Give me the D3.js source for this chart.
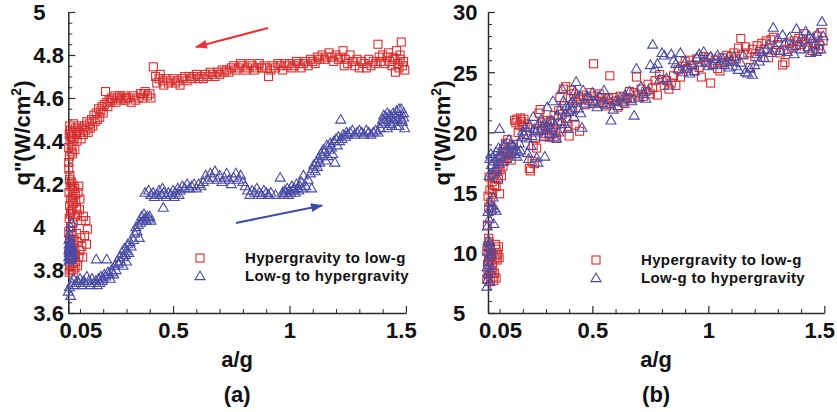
<!DOCTYPE html>
<html>
<head>
<meta charset="utf-8">
<script src="https://cdn.jsdelivr.net/npm/d3@7"></script>
<style>
  body { margin: 0; background: #fff; }
  svg { display: block; }
  text { font-family: 'Liberation Sans', Arial, Helvetica, sans-serif; font-weight: bold; fill: #111; }
</style>
</head>
<body>
<svg id="chart" width="837" height="412"></svg>
<script>
// ---- axis ticks and labels ----
const xTicks = [0.05, 0.5, 1, 1.5];
const xMinorTicks = [0.1, 0.2, 0.3, 0.4, 0.6, 0.7, 0.8, 0.9, 1.1, 1.2, 1.3, 1.4];
const yTicksA = [3.6, 3.8, 4, 4.2, 4.4, 4.6, 4.8, 5];
const yTicksB = [5, 10, 15, 20, 25, 30];
const legendLabels = ["Hypergravity to low-g", "Low-g to hypergravity"];
const panelLabels = ["(a)", "(b)"];

// ---- (a) heat flux, hypergravity to low-g: [a/g, q''] ----
const hyperToLowA = [
  [0.052,4.30],[0.055,4.33],[0.052,4.37],[0.058,4.40],[0.054,4.43],[0.060,4.45],[0.056,4.47],[0.064,4.42],[0.070,4.44],[0.066,4.38],
  [0.062,4.35],[0.075,4.41],[0.080,4.46],[0.072,4.48],[0.085,4.43],[0.068,4.34],[0.078,4.36],[0.090,4.45],[0.095,4.47],[0.088,4.40],
  [0.052,4.27],[0.055,4.22],[0.058,4.19],[0.053,4.16],[0.060,4.13],[0.056,4.10],[0.062,4.07],[0.054,4.04],[0.065,4.20],[0.068,4.17],
  [0.070,4.14],[0.072,4.11],[0.066,4.08],[0.075,4.05],[0.078,4.18],[0.080,4.15],[0.082,4.12],[0.085,4.09],[0.070,4.02],[0.088,4.06],
  [0.092,4.16],[0.095,4.19],[0.100,4.13],[0.098,4.08],[0.105,4.03],[0.115,4.05],[0.125,4.03],[0.132,3.99],[0.120,3.96],[0.128,3.92],
  [0.060,4.00],[0.052,3.98],[0.055,3.94],[0.058,3.91],[0.053,3.88],[0.060,3.85],[0.056,3.82],[0.054,3.79],[0.062,3.96],[0.065,3.92],
  [0.068,3.89],[0.064,3.86],[0.070,3.83],[0.072,3.80],[0.075,3.94],[0.078,3.90],[0.080,3.87],[0.082,3.84],[0.085,3.97],[0.088,3.93],
  [0.090,3.82],[0.095,3.86],[0.100,3.89],[0.108,3.91],[0.112,3.86],[0.104,3.95],
  [0.057,4.24],[0.063,4.21],[0.059,4.06],[0.067,4.12],[0.074,4.19],[0.061,3.80],[0.066,3.98],[0.073,3.87],[0.079,3.81],[0.058,4.43],
  [0.100,4.44],[0.105,4.41],[0.110,4.46],[0.115,4.43],[0.120,4.47],[0.125,4.45],[0.130,4.49],[0.135,4.44],[0.140,4.48],[0.145,4.46],
  [0.150,4.50],[0.155,4.47],[0.160,4.52],[0.165,4.49],[0.170,4.53],[0.175,4.50],[0.180,4.55],[0.185,4.51],[0.190,4.54],[0.195,4.56],
  [0.200,4.53],[0.205,4.57],[0.210,4.63],[0.215,4.58],[0.220,4.56],[0.225,4.59],[0.230,4.58],[0.235,4.60],[0.240,4.59],[0.250,4.61],
  [0.255,4.58],[0.260,4.60],[0.270,4.61],[0.275,4.59],[0.280,4.60],[0.290,4.61],[0.295,4.59],[0.300,4.60],[0.310,4.60],[0.320,4.58],
  [0.330,4.61],[0.340,4.59],[0.350,4.60],[0.360,4.62],[0.370,4.60],[0.375,4.62],[0.380,4.63],[0.390,4.61],[0.400,4.62],[0.405,4.60],
  [0.415,4.745],[0.425,4.70],[0.430,4.67],[0.440,4.69],[0.445,4.71],[0.455,4.68],[0.460,4.66],[0.470,4.69],[0.480,4.67],[0.490,4.68],
  [0.500,4.69],[0.510,4.67],[0.520,4.68],[0.530,4.66],[0.540,4.69],[0.550,4.70],[0.560,4.68],[0.570,4.70],[0.580,4.69],[0.590,4.70],
  [0.600,4.71],[0.610,4.69],[0.620,4.70],[0.630,4.69],[0.640,4.71],[0.650,4.70],[0.660,4.72],[0.670,4.71],[0.680,4.70],[0.690,4.72],
  [0.700,4.71],[0.710,4.73],[0.720,4.72],[0.730,4.73],[0.740,4.72],[0.750,4.74],[0.760,4.75],[0.770,4.73],[0.780,4.74],[0.790,4.76],
  [0.800,4.75],[0.810,4.73],[0.820,4.74],[0.830,4.76],[0.840,4.75],[0.850,4.73],[0.860,4.74],[0.870,4.76],[0.880,4.74],[0.890,4.75],
  [0.900,4.74],[0.910,4.70],[0.920,4.73],[0.930,4.75],[0.940,4.74],[0.950,4.76],[0.960,4.75],[0.970,4.73],[0.980,4.76],[0.990,4.75],
  [1.000,4.76],[1.010,4.74],[1.020,4.75],[1.030,4.77],[1.040,4.76],[1.050,4.74],[1.060,4.76],[1.070,4.77],[1.080,4.75],[1.090,4.78],
  [1.100,4.77],[1.110,4.76],[1.120,4.79],[1.130,4.78],[1.140,4.80],[1.150,4.78],[1.160,4.79],[1.170,4.81],[1.180,4.79],[1.190,4.77],
  [1.200,4.80],[1.210,4.78],[1.220,4.79],[1.230,4.82],[1.235,4.75],[1.240,4.78],[1.250,4.76],[1.260,4.80],[1.270,4.77],[1.280,4.75],
  [1.290,4.78],[1.300,4.74],[1.310,4.77],[1.320,4.76],[1.330,4.74],[1.340,4.78],[1.350,4.75],[1.360,4.77],[1.370,4.76],[1.380,4.85],
  [1.385,4.79],[1.390,4.77],[1.400,4.80],[1.410,4.76],[1.420,4.79],[1.430,4.77],[1.440,4.75],[1.450,4.78],[1.455,4.72],[1.460,4.82],
  [1.465,4.76],[1.470,4.74],[1.475,4.78],[1.480,4.86],[1.485,4.75],[1.490,4.77],[1.495,4.73],[1.475,4.80],[1.445,4.79],[1.425,4.81]
];

// ---- (a) heat flux, low-g to hypergravity ----
const lowToHyperA = [
  [0.052,3.86],[0.055,3.88],[0.058,3.90],[0.054,3.92],[0.060,3.87],[0.062,3.89],[0.056,3.91],[0.064,3.86],[0.053,3.94],[0.058,3.85],
  [0.066,3.88],[0.068,3.90],[0.060,3.93],[0.057,3.95],[0.063,3.92],[0.070,3.87],[0.055,3.97],[0.060,4.00],[0.065,4.02],[0.052,3.84],
  [0.053,3.89],[0.056,3.86],[0.059,3.88],[0.061,3.91],[0.054,3.90],[0.057,3.87],[0.062,3.85],[0.065,3.90],[0.067,3.86],[0.059,3.93],
  [0.050,3.70],[0.055,3.72],[0.060,3.68],[0.065,3.74],[0.072,3.76],[0.080,3.73],[0.088,3.75],[0.095,3.74],[0.100,3.76],[0.108,3.73],
  [0.115,3.75],[0.122,3.74],[0.130,3.77],[0.138,3.75],[0.145,3.73],[0.152,3.76],[0.160,3.74],[0.168,3.75],[0.175,3.73],[0.180,3.76],
  [0.185,3.74],[0.190,3.77],[0.170,3.85],[0.215,3.85],[0.195,3.75],[0.200,3.76],[0.205,3.78],[0.210,3.77],[0.220,3.79],[0.225,3.78],
  [0.230,3.76],[0.235,3.80],[0.240,3.79],[0.245,3.78],
  [0.250,3.82],[0.255,3.80],[0.260,3.84],[0.265,3.83],[0.270,3.86],[0.275,3.84],[0.280,3.88],[0.285,3.86],[0.290,3.90],[0.295,3.87],
  [0.300,3.89],[0.305,3.92],[0.310,3.88],[0.315,3.93],[0.300,3.84],[0.285,3.82],[0.320,3.91],[0.330,3.94],[0.335,3.97],[0.340,4.00],
  [0.345,3.98],[0.350,4.01],[0.355,3.95],[0.360,4.02],[0.365,4.05],[0.370,4.03],[0.375,4.06],[0.380,4.04],[0.385,4.03],[0.390,4.05],
  [0.395,4.04],[0.400,4.05],[0.405,4.03],[0.380,4.16],[0.395,4.17],[0.405,4.15],[0.415,4.16],[0.420,4.14],[0.430,4.15],[0.458,4.09],
  [0.440,4.17],[0.450,4.15],[0.455,4.18],[0.460,4.16],[0.470,4.14],[0.480,4.16],[0.490,4.15],[0.500,4.17],[0.505,4.14],[0.510,4.16],
  [0.520,4.18],[0.525,4.15],[0.530,4.17],[0.540,4.19],[0.550,4.18],[0.560,4.20],[0.570,4.18],[0.580,4.19],[0.590,4.20],[0.600,4.18],
  [0.610,4.20],[0.620,4.19],[0.630,4.21],[0.640,4.24],[0.650,4.22],[0.660,4.25],[0.670,4.23],[0.680,4.26],[0.690,4.22],[0.700,4.24],
  [0.710,4.21],[0.720,4.23],[0.730,4.25],[0.740,4.22],[0.750,4.20],[0.760,4.23],[0.770,4.25],[0.780,4.22],[0.790,4.24],[0.800,4.21],
  [0.810,4.19],[0.820,4.17],[0.830,4.15],[0.840,4.17],[0.850,4.16],[0.860,4.18],[0.870,4.16],[0.880,4.15],[0.890,4.17],[0.900,4.16],
  [0.910,4.15],[0.920,4.16],[0.940,4.15],[0.960,4.23],[0.970,4.16],[0.975,4.15],[0.980,4.17],[0.985,4.16],[0.990,4.18],[0.995,4.15],
  [1.000,4.17],[1.005,4.16],[1.010,4.19],[1.015,4.17],[1.020,4.18],[1.025,4.16],[1.030,4.20],[1.035,4.18],[1.040,4.17],[1.045,4.19],
  [1.050,4.21],[1.055,4.18],[1.060,4.24],[1.070,4.19],[1.080,4.22],[1.090,4.25],[1.095,4.18],
  [1.100,4.27],[1.105,4.29],[1.110,4.26],[1.115,4.30],[1.120,4.28],[1.125,4.32],[1.130,4.30],[1.135,4.34],[1.140,4.33],[1.145,4.36],
  [1.150,4.35],[1.155,4.31],[1.160,4.38],[1.165,4.33],[1.170,4.36],[1.175,4.39],[1.180,4.37],[1.185,4.34],[1.190,4.40],[1.195,4.30],
  [1.200,4.41],[1.205,4.38],[1.210,4.42],[1.215,4.40],[1.220,4.50],[1.225,4.41],[1.230,4.43],[1.240,4.42],[1.245,4.44],[1.250,4.43],
  [1.260,4.44],[1.270,4.45],[1.280,4.43],[1.290,4.44],[1.300,4.45],[1.310,4.44],[1.320,4.43],[1.330,4.45],[1.340,4.44],[1.350,4.43],
  [1.360,4.44],[1.370,4.45],[1.380,4.44],[1.390,4.46],[1.395,4.48],[1.400,4.50],[1.405,4.52],[1.410,4.49],[1.415,4.51],[1.420,4.53],
  [1.425,4.50],[1.430,4.52],[1.435,4.48],[1.440,4.51],[1.445,4.53],[1.450,4.49],[1.455,4.51],[1.460,4.54],[1.465,4.50],[1.470,4.47],
  [1.475,4.52],[1.480,4.55],[1.485,4.49],[1.490,4.53],[1.495,4.46],[1.490,4.51],[1.470,4.55],[1.480,4.50],[1.460,4.47],[1.440,4.47],
  [1.420,4.46]
];

// ---- (b) heat flux, hypergravity to low-g ----
const hyperToLowB = [
  [0.045,7.8],[0.050,8.2],[0.055,8.6],[0.048,9.0],[0.052,9.4],[0.058,9.8],[0.045,10.2],[0.050,10.6],[0.055,10.9],[0.060,10.4],
  [0.065,10.0],[0.062,9.6],[0.068,9.2],[0.070,8.8],[0.066,8.4],[0.072,8.0],[0.075,7.7],[0.078,8.3],[0.080,9.5],[0.082,10.7],
  [0.085,10.3],[0.088,9.8],[0.090,9.4],[0.092,9.9],[0.095,10.5],[0.098,9.6],[0.085,7.9],[0.060,7.6],[0.053,11.2],[0.047,12.3],
  [0.050,14.7],[0.053,13.8],[0.055,16.3],[0.058,15.2],[0.062,14.2],[0.065,13.5],[0.068,15.9],[0.070,15.0],[0.075,16.5],[0.078,15.6],
  [0.080,16.2],[0.085,15.5],[0.090,16.8],[0.095,16.1],[0.098,17.3],[0.100,14.9],[0.102,16.9],[0.105,17.8],[0.108,16.4],[0.110,18.0],
  [0.115,17.2],[0.118,18.6],[0.120,17.6],[0.125,19.1],[0.128,18.3],[0.132,17.9],[0.135,19.4],[0.140,18.1],[0.145,18.8],[0.150,17.7],
  [0.155,18.4],[0.160,19.0],[0.165,21.0],[0.170,20.8],[0.175,21.1],[0.180,20.0],[0.185,20.6],[0.190,21.2],[0.195,20.9],[0.200,20.5],
  [0.205,21.1],[0.210,20.7],[0.215,19.8],[0.220,20.4],[0.228,17.0],[0.233,16.8],[0.240,17.6],[0.245,18.9],[0.250,17.4],[0.255,19.5],
  [0.260,18.7],[0.265,20.3],[0.270,21.6],[0.275,21.9],[0.280,20.2],[0.285,20.8],[0.290,19.7],[0.295,20.6],[0.300,19.9],[0.305,21.0],
  [0.310,20.4],[0.315,19.6],[0.320,20.9],[0.325,19.8],[0.330,20.2],[0.335,21.4],[0.340,20.0],[0.345,19.5],[0.350,20.7],[0.355,21.8],
  [0.360,22.9],[0.365,20.3],[0.370,21.5],[0.375,23.6],[0.380,22.2],[0.385,23.8],[0.390,21.2],[0.395,20.5],[0.400,19.7],[0.405,22.8],
  [0.410,23.5],[0.415,22.1],[0.420,23.2],[0.425,20.6],[0.430,22.5],[0.440,23.0],[0.445,20.1],[0.450,22.7],[0.460,23.1],[0.470,22.3],
  [0.480,22.8],[0.490,23.3],[0.500,22.4],[0.505,25.7],[0.510,23.0],[0.520,22.6],[0.530,23.2],[0.540,22.9],[0.550,22.5],[0.560,22.2],
  [0.570,22.8],[0.575,24.7],[0.580,22.4],[0.590,22.9],[0.600,22.6],[0.610,22.1],[0.620,23.0],[0.630,22.7],[0.640,22.4],[0.650,22.9],
  [0.660,23.4],[0.670,22.8],[0.680,23.3],[0.690,24.6],[0.700,23.1],[0.710,23.6],[0.720,23.0],[0.730,23.4],[0.740,24.0],[0.750,23.2],
  [0.760,23.7],[0.770,24.3],[0.780,23.1],[0.790,24.8],[0.800,24.4],[0.810,23.9],[0.820,24.3],[0.830,23.6],[0.840,24.1],[0.850,24.7],
  [0.860,23.9],[0.870,25.2],[0.880,24.6],[0.890,25.5],[0.900,25.9],[0.910,25.3],[0.920,26.0],[0.930,25.6],[0.940,25.1],[0.950,26.1],
  [0.960,25.4],[0.970,24.6],[0.980,26.3],[0.990,25.8],[1.000,26.2],[1.010,24.1],[1.020,25.7],[1.030,26.0],[1.040,25.3],[1.050,25.1],
  [1.060,26.2],[1.070,25.8],[1.080,26.4],[1.090,25.9],[1.100,26.3],[1.110,26.6],[1.120,26.1],[1.130,27.0],[1.140,27.8],[1.150,26.5],
  [1.160,27.1],[1.170,26.6],[1.180,25.4],[1.190,26.9],[1.200,26.3],[1.210,27.2],[1.220,26.7],[1.230,27.4],[1.240,26.9],[1.250,27.6],
  [1.260,26.2],[1.270,27.7],[1.280,27.9],[1.290,26.8],[1.300,27.3],[1.310,26.6],[1.320,25.6],[1.330,25.8],[1.340,26.9],[1.350,27.4],
  [1.360,27.0],[1.370,27.6],[1.380,27.2],[1.390,27.8],[1.400,27.3],[1.410,28.2],[1.420,27.5],[1.430,27.0],[1.440,27.8],[1.450,26.8],
  [1.460,27.4],[1.470,28.0],[1.480,27.2],[1.490,28.3],[1.495,27.6],[1.475,26.9]
];

// ---- (b) heat flux, low-g to hypergravity ----
const lowToHyperB = [
  [0.045,7.2],[0.048,7.8],[0.050,8.3],[0.046,8.8],[0.052,9.3],[0.055,9.7],[0.048,10.1],[0.053,10.5],[0.057,10.9],[0.060,9.0],
  [0.062,8.5],[0.058,7.6],[0.065,9.9],[0.068,10.3],[0.050,11.0],[0.047,12.2],[0.050,13.4],[0.055,12.8],[0.060,14.2],[0.065,13.6],
  [0.068,13.9],[0.072,14.6],[0.075,12.4],[0.078,13.7],[0.085,13.5],[0.055,16.4],[0.058,17.8],[0.062,18.2],[0.065,17.3],[0.070,16.6],
  [0.072,18.0],[0.075,17.6],[0.080,17.0],[0.085,18.4],[0.088,16.9],[0.090,17.9],[0.092,16.2],[0.095,18.7],[0.098,17.4],[0.100,20.3],
  [0.105,18.1],[0.110,17.6],[0.115,18.9],[0.120,18.4],[0.125,19.0],[0.130,17.8],[0.135,18.6],[0.140,19.4],[0.145,18.2],[0.150,19.0],
  [0.155,18.5],[0.160,18.9],[0.165,18.2],[0.170,18.6],[0.175,18.0],[0.180,18.4],[0.185,19.1],[0.190,18.5],[0.195,19.6],[0.200,20.1],
  [0.205,19.8],[0.210,20.4],[0.215,19.5],[0.220,18.3],[0.225,17.8],[0.230,20.6],[0.235,18.9],[0.240,19.7],[0.245,21.3],[0.250,20.3],
  [0.255,20.0],[0.260,17.9],[0.265,17.5],[0.270,20.7],[0.275,20.1],[0.280,21.1],[0.285,20.5],[0.290,19.6],[0.295,18.0],[0.300,20.2],
  [0.305,22.1],[0.310,20.8],[0.315,19.9],[0.320,20.4],[0.325,21.0],[0.330,22.6],[0.335,19.6],[0.340,20.6],[0.345,19.5],[0.350,21.4],
  [0.355,20.0],[0.360,21.9],[0.365,20.9],[0.370,23.6],[0.375,22.6],[0.380,20.7],[0.385,21.6],[0.390,22.2],[0.395,20.3],[0.400,21.7],
  [0.405,22.4],[0.410,21.9],[0.415,22.6],[0.420,21.3],[0.425,23.4],[0.430,24.2],[0.435,22.8],[0.440,22.0],[0.450,21.6],[0.455,20.4],
  [0.460,23.5],[0.470,22.4],[0.480,23.0],[0.490,22.6],[0.500,23.3],[0.510,22.5],[0.520,22.1],[0.530,23.0],[0.540,22.4],[0.550,23.5],
  [0.560,22.3],[0.570,22.7],[0.580,21.0],[0.590,21.9],[0.600,22.6],[0.610,22.2],[0.620,22.9],[0.630,22.5],[0.640,23.1],[0.650,22.8],
  [0.660,23.4],[0.670,22.6],[0.680,21.4],[0.690,25.3],[0.700,22.9],[0.710,23.8],[0.720,23.2],[0.730,22.8],[0.740,23.5],[0.750,25.6],
  [0.760,27.3],[0.770,25.3],[0.780,25.7],[0.790,24.4],[0.800,26.6],[0.810,26.4],[0.820,24.5],[0.830,23.9],[0.840,26.5],[0.850,26.0],
  [0.860,25.7],[0.870,25.3],[0.880,26.6],[0.890,25.0],[0.900,25.8],[0.910,25.4],[0.920,24.9],[0.930,25.6],[0.940,25.1],[0.950,26.2],
  [0.960,26.5],[0.970,25.8],[0.980,26.7],[0.990,25.9],[1.000,25.5],[1.010,26.3],[1.020,25.6],[1.030,26.1],[1.040,26.4],[1.050,25.8],
  [1.060,26.2],[1.070,25.6],[1.080,26.0],[1.090,25.4],[1.100,25.9],[1.110,26.3],[1.120,25.5],[1.130,25.2],[1.140,25.8],[1.150,26.4],
  [1.160,25.0],[1.170,24.9],[1.180,25.3],[1.190,24.8],[1.200,25.6],[1.210,26.5],[1.220,25.9],[1.230,26.7],[1.240,26.2],[1.250,26.9],
  [1.260,27.3],[1.270,26.6],[1.280,28.7],[1.290,27.0],[1.300,27.8],[1.310,26.8],[1.320,28.1],[1.330,27.4],[1.340,26.7],[1.350,27.9],
  [1.360,27.2],[1.370,26.5],[1.380,28.6],[1.390,27.5],[1.400,26.9],[1.410,27.7],[1.420,28.4],[1.430,27.1],[1.440,26.6],[1.450,27.8],
  [1.460,27.3],[1.470,28.2],[1.480,27.6],[1.490,29.2],[1.495,28.0],[1.485,26.9],[1.465,26.7],[1.435,28.0]
];

// direction arrows in panel (a), in data units: [from, to]
const arrowHyperToLow = [[0.908, 4.926], [0.598, 4.837]];
const arrowLowToHyper = [[0.770, 4.019], [1.140, 4.100]];

const RED = "#d8302f";
const BLUE = "#4a4ca6";
const AXIS = "#2a2a2a";

const svg = d3.select("#chart");

const defs = svg.append("defs");
[["head-red", "#e8353a"], ["head-blue", "#3c4aa8"]].forEach(([id, c]) => {
  defs.append("marker")
    .attr("id", id)
    .attr("viewBox", "0 0 12 10")
    .attr("refX", 11).attr("refY", 5)
    .attr("markerUnits", "userSpaceOnUse")
    .attr("markerWidth", 13).attr("markerHeight", 10)
    .attr("orient", "auto")
    .append("path").attr("d", "M0,0.5 L12,5 L0,9.5 Z").attr("fill", c);
});

function square(sel, color) {
  sel.append("rect")
    .attr("x", -4).attr("y", -4).attr("width", 8).attr("height", 8)
    .attr("fill", "none").attr("stroke", color).attr("stroke-width", 1.1);
}
function triangle(sel, color) {
  sel.append("path")
    .attr("d", "M0,-5 L5,3.6 L-5,3.6 Z")
    .attr("fill", "none").attr("stroke", color).attr("stroke-width", 1.1);
}

function drawPanel(cfg) {
  const x = d3.scaleLinear().domain([0.05, 1.5]).range(cfg.xRange);
  const y = d3.scaleLinear().domain(cfg.yDomain).range([313, 12]);
  const g = svg.append("g");
  const x0 = cfg.xRange[0];

  // minor ticks, drawn inward
  g.append("g").attr("transform", "translate(0,313)")
    .call(d3.axisBottom(x).tickValues(xMinorTicks).tickSize(-4).tickFormat(""))
    .call(s => s.select(".domain").remove())
    .call(s => s.selectAll("line").attr("stroke", AXIS));
  g.append("g").attr("transform", `translate(${x0},0)`)
    .call(d3.axisLeft(y).tickValues(cfg.yMinor).tickSize(-4).tickFormat(""))
    .call(s => s.select(".domain").remove())
    .call(s => s.selectAll("line").attr("stroke", AXIS));

  // major x axis
  const xa = g.append("g").attr("transform", "translate(0,313)")
    .call(d3.axisBottom(x).tickValues(xTicks).tickSizeInner(-7).tickSizeOuter(0)
      .tickPadding(9).tickFormat(d3.format("~g")));
  xa.select(".domain").attr("stroke", AXIS).attr("stroke-width", 1.5);
  xa.selectAll("line").attr("stroke", AXIS).attr("stroke-width", 1.2);
  xa.selectAll("text").attr("font-size", 22).attr("fill", "#111")
    .attr("font-family", null)
    .attr("dx", d => d === 0.05 ? 12 : (d === 1.5 ? -5 : 0));

  // major y axis, labels start-aligned
  const ya = g.append("g").attr("transform", `translate(${x0},0)`)
    .call(d3.axisLeft(y).tickValues(cfg.yTicks).tickSizeInner(-7).tickSizeOuter(0)
      .tickFormat(d3.format("~g")));
  ya.select(".domain").attr("stroke", AXIS).attr("stroke-width", 1.5);
  ya.selectAll("line").attr("stroke", AXIS).attr("stroke-width", 1.2);
  ya.selectAll("text").attr("font-size", 22).attr("fill", "#111")
    .attr("font-family", null)
    .attr("text-anchor", "start").attr("x", -35).attr("dy", "0.36em");

  // axis titles
  const cx = (cfg.xRange[0] + cfg.xRange[1]) / 2;
  g.append("text").attr("x", cx).attr("y", 367).attr("text-anchor", "middle")
    .attr("font-size", 22).text("a/g");
  g.append("text").attr("x", cx).attr("y", 402).attr("text-anchor", "middle")
    .attr("font-size", 22).text(cfg.label);

  const yt = g.append("text")
    .attr("transform", `translate(${cfg.yTitleX},133) rotate(-90)`)
    .attr("text-anchor", "middle").attr("font-size", 22);
  yt.append("tspan").text("q\"(W/cm");
  yt.append("tspan").attr("font-size", 14).attr("dy", -9).text("2");
  yt.append("tspan").attr("dy", 9).text(")");

  // data points
  g.append("g").selectAll("g").data(cfg.series[0]).join("g")
    .attr("transform", d => `translate(${x(d[0])},${y(d[1])})`)
    .call(s => square(s, RED));
  g.append("g").selectAll("g").data(cfg.series[1]).join("g")
    .attr("transform", d => `translate(${x(d[0])},${y(d[1])})`)
    .call(s => triangle(s, BLUE));

  // legend
  const lg = g.append("g").attr("transform", `translate(${cfg.legend[0]},${cfg.legend[1]})`);
  lg.append("g").attr("transform", "translate(0,0)").call(s => square(s, RED));
  lg.append("g").attr("transform", "translate(0,18)").call(s => triangle(s, BLUE));
  [0, 1].forEach(i => {
    lg.append("text").attr("x", 45).attr("y", 5 + 18 * i)
      .attr("font-size", 15).attr("letter-spacing", 0.35).attr("fill", "#1a1a1a")
      .text(legendLabels[i]);
  });

  // direction arrows
  (cfg.arrows || []).forEach(a => {
    g.append("line")
      .attr("x1", x(a.pts[0][0])).attr("y1", y(a.pts[0][1]))
      .attr("x2", x(a.pts[1][0])).attr("y2", y(a.pts[1][1]))
      .attr("stroke", a.color).attr("stroke-width", 2)
      .attr("marker-end", `url(#${a.head})`);
  });
}

drawPanel({
  xRange: [68.3, 405.9],
  yDomain: [3.6, 5],
  yTicks: yTicksA,
  yMinor: d3.range(3.65, 5.0, 0.05).map(v => +v.toFixed(2)).filter(v => Math.abs(v * 5 - Math.round(v * 5)) > 1e-6),
  yTitleX: 30,
  label: panelLabels[0],
  legend: [200, 258],
  series: [hyperToLowA, lowToHyperA],
  arrows: [
    { pts: arrowHyperToLow, color: "#e8353a", head: "head-red" },
    { pts: arrowLowToHyper, color: "#3c4aa8", head: "head-blue" }
  ]
});

drawPanel({
  xRange: [488, 824.3],
  yDomain: [5, 30],
  yTicks: yTicksB,
  yMinor: d3.range(6, 30, 1).filter(v => v % 5 !== 0),
  yTitleX: 449.5,
  label: panelLabels[1],
  legend: [596, 260],
  series: [hyperToLowB, lowToHyperB]
});
</script>
</body>
</html>
